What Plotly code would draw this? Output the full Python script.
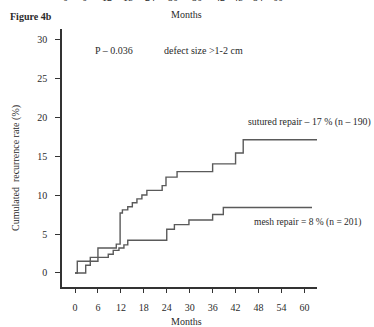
import plotly.graph_objects as go

# Data (months, cumulative recurrence %)
sutured_months = [0, 2.8, 4.0, 6.0, 10.8, 11.8, 12.4, 13.8, 15.0, 16.2, 17.5, 18.8, 22.8, 23.8, 26.7, 36.0, 42.0, 44.0, 63.3]
sutured_rate = [0, 1.0, 1.5, 3.2, 3.7, 7.7, 8.1, 8.5, 9.0, 9.5, 10.0, 10.6, 11.2, 12.3, 13.0, 14.0, 15.4, 17.1, 17.1]

mesh_months = [0, 0.6, 4.0, 8.7, 10.0, 11.5, 12.8, 13.8, 24.0, 26.0, 29.8, 36.0, 38.8, 62.0]
mesh_rate = [0, 1.5, 2.0, 2.4, 2.9, 3.2, 3.6, 4.2, 5.6, 6.2, 6.8, 7.5, 8.4, 8.4]

x_ticks = [0, 6, 12, 18, 24, 30, 36, 42, 48, 54, 60]
y_ticks = [0, 5, 10, 15, 20, 25, 30]
top_tick_labels = ["0", "6", "12", "18", "24", "30", "36", "42", "48", "54", "60"]
top_tick_px = [65, 84, 107, 128, 150, 173, 197, 220, 238, 258, 278]

FONT = "Liberation Serif"
LINE = "#5a5a5a"
TXT = "#2a2a2a"

fig = go.Figure()
fig.add_trace(go.Scatter(x=sutured_months, y=sutured_rate, mode="lines",
                         line=dict(shape="hv", color=LINE, width=1.4), showlegend=False))
fig.add_trace(go.Scatter(x=mesh_months, y=mesh_rate, mode="lines",
                         line=dict(shape="hv", color=LINE, width=1.4), showlegend=False))

L, R, T, B = 62, 57, 29, 40
W, H = 374, 327
pw, ph = W - L - R, H - T - B

def px(xp):
    return (xp - L) / pw

def py(yp):
    return (H - B - yp) / ph

ann = []
ann.append(dict(text="<b>Figure 4b</b>", x=px(8), y=py(17), xref="paper", yref="paper",
                xanchor="left", yanchor="middle", showarrow=False, font=dict(size=10)))
ann.append(dict(text="Months", x=px(186), y=py(15), xref="paper", yref="paper",
                xanchor="center", yanchor="middle", showarrow=False, font=dict(size=10)))
for lab, xp in zip(top_tick_labels, top_tick_px):
    ann.append(dict(text=lab, x=px(xp), y=py(-3), xref="paper", yref="paper",
                    xanchor="center", yanchor="middle", showarrow=False, font=dict(size=10)))
ann.append(dict(text="P – 0.036", x=px(93), y=py(50), xref="paper", yref="paper", xanchor="left",
                yanchor="middle", showarrow=False, font=dict(size=10)))
ann.append(dict(text="defect size >1-2 cm", x=px(162), y=py(50), xref="paper", yref="paper",
                xanchor="left", yanchor="middle", showarrow=False, font=dict(size=10)))
ann.append(dict(text="sutured repair – 17 % (n – 190)", x=px(246), y=py(122), xref="paper",
                yref="paper", xanchor="left", yanchor="middle", showarrow=False,
                font=dict(size=9.8)))
ann.append(dict(text="mesh repair = 8 % (n = 201)", x=px(252), y=py(222), xref="paper",
                yref="paper", xanchor="left", yanchor="middle", showarrow=False,
                font=dict(size=9.5)))
ann.append(dict(text="Months", x=px(186), y=py(321), xref="paper", yref="paper",
                xanchor="center", yanchor="middle", showarrow=False, font=dict(size=10)))
ann.append(dict(text="Cumulated  recurrence rate (%)", x=px(16), y=py(168), xref="paper",
                yref="paper", xanchor="center", yanchor="middle", textangle=-90,
                showarrow=False, font=dict(size=10)))

fig.update_layout(
    width=W, height=H,
    margin=dict(l=L, r=R, t=T, b=B, autoexpand=False),
    paper_bgcolor="white", plot_bgcolor="white",
    font=dict(family=FONT, size=10, color=TXT),
    annotations=ann,
    xaxis=dict(range=[-3.4, 63.3], tickvals=x_ticks, showgrid=False, zeroline=False,
               showline=True, linecolor="#333333", linewidth=1.5, automargin=False,
               ticks="outside", ticklen=4, tickcolor="#333333", tickwidth=1,
               tickfont=dict(size=10), ticklabelstandoff=6),
    yaxis=dict(range=[-1.8, 31.3], tickvals=y_ticks, showgrid=False, zeroline=False,
               showline=True, linecolor="#333333", linewidth=1.5, automargin=False,
               ticks="outside", ticklen=5, tickcolor="#333333", tickwidth=1,
               tickfont=dict(size=10), ticklabelstandoff=6),
)

fig.write_html("out.html", config={"displayModeBar": False},
               post_script="document.body.style.margin='0';document.body.style.overflow='hidden';")
